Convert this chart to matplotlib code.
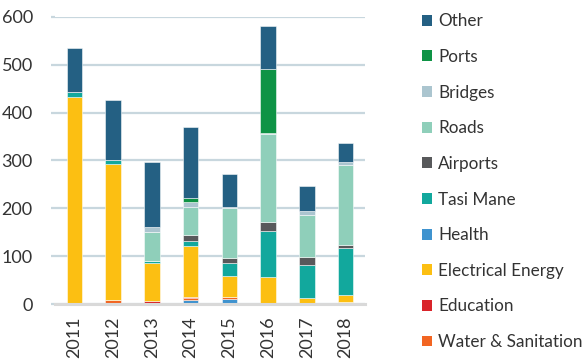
import matplotlib
matplotlib.use("Agg")
import matplotlib.pyplot as plt
from matplotlib.patches import Patch
import numpy as np

plt.rcParams['font.family'] = ['Lato', 'DejaVu Sans']

years = ["2011", "2012", "2013", "2014", "2015", "2016", "2017", "2018"]

# Spending by sector (stacked from the bottom up in this order)
health = [2, 3, 0, 9, 10, 0, 0, 4]
water_sanitation = [0, 5, 3, 5, 5, 3, 3, 1]
education = [0, 0, 3, 2, 1, 0, 0, 0]
electrical_energy = [431, 284, 80, 106, 42, 54, 11, 15]
tasi_mane = [10, 10, 4, 10, 29, 95, 67, 98]
airports = [0, 0, 0, 12, 9, 19, 17, 5]
roads = [0, 0, 61, 58, 104, 185, 89, 167]
bridges = [0, 0, 10, 11, 3, 1, 8, 6]
ports = [0, 0, 1, 9, 0, 134, 0, 0]
other = [92, 125, 135, 147, 69, 89, 52, 40]

y_ticks = [0, 100, 200, 300, 400, 500, 600]

series = [
    ("Health", health, "#3f93cf"),
    ("Water & Sanitation", water_sanitation, "#f26522"),
    ("Education", education, "#d9242a"),
    ("Electrical Energy", electrical_energy, "#fcbf12"),
    ("Tasi Mane", tasi_mane, "#12a89d"),
    ("Airports", airports, "#58595b"),
    ("Roads", roads, "#8fcfba"),
    ("Bridges", bridges, "#abc5cf"),
    ("Ports", ports, "#0e9345"),
    ("Other", other, "#246083"),
]
legend_order = ["Other", "Ports", "Bridges", "Roads", "Airports", "Tasi Mane",
                "Health", "Electrical Energy", "Education", "Water & Sanitation"]

text_color = "#333333"
grid_color = "#c8d7de"

fig = plt.figure(figsize=(5.84, 3.59), dpi=100)
ax = fig.add_axes([0.0942, 0.1524, 0.5308, 0.8011])

x = np.arange(len(years))
bottom = np.zeros(len(years))
colors = {}
for name, vals, col in series:
    vals = np.asarray(vals, dtype=float)
    ax.bar(x, vals, width=0.40, bottom=bottom, color=col,
           edgecolor=(1, 1, 1, 0.6), linewidth=0.6, zorder=3)
    bottom += vals
    colors[name] = col

ax.set_xlim(-0.5, len(years) - 0.5)
ax.set_ylim(0, 600)
ax.set_yticks(y_ticks)
ax.set_yticklabels([str(t) for t in y_ticks])
ax.set_xticks(x)
ax.set_xticklabels(years, rotation=90)

ax.yaxis.grid(True, color=grid_color, linewidth=1.6, zorder=0)
ax.xaxis.grid(False)
for s in ["top", "right", "left"]:
    ax.spines[s].set_visible(False)
ax.spines["bottom"].set_color("#d9d9d9")
ax.spines["bottom"].set_linewidth(2.2)
ax.spines["bottom"].set_zorder(4)

ax.tick_params(axis="y", length=3, color=grid_color, width=1.6, pad=13,
               labelsize=13, labelcolor=text_color)
ax.tick_params(axis="x", length=0, pad=9, labelsize=13, labelcolor=text_color)

handles = [Patch(facecolor=colors[n], edgecolor="none") for n in legend_order]
fig.legend(handles, legend_order, loc="upper left",
           bbox_to_anchor=(0.722, 0.963), frameon=False, fontsize=12.3,
           labelcolor=text_color, handlelength=0.6, handleheight=0.6,
           handletextpad=0.35, labelspacing=1.15, borderaxespad=0.0,
           borderpad=0.0)

fig.savefig("out.png", dpi=100)
